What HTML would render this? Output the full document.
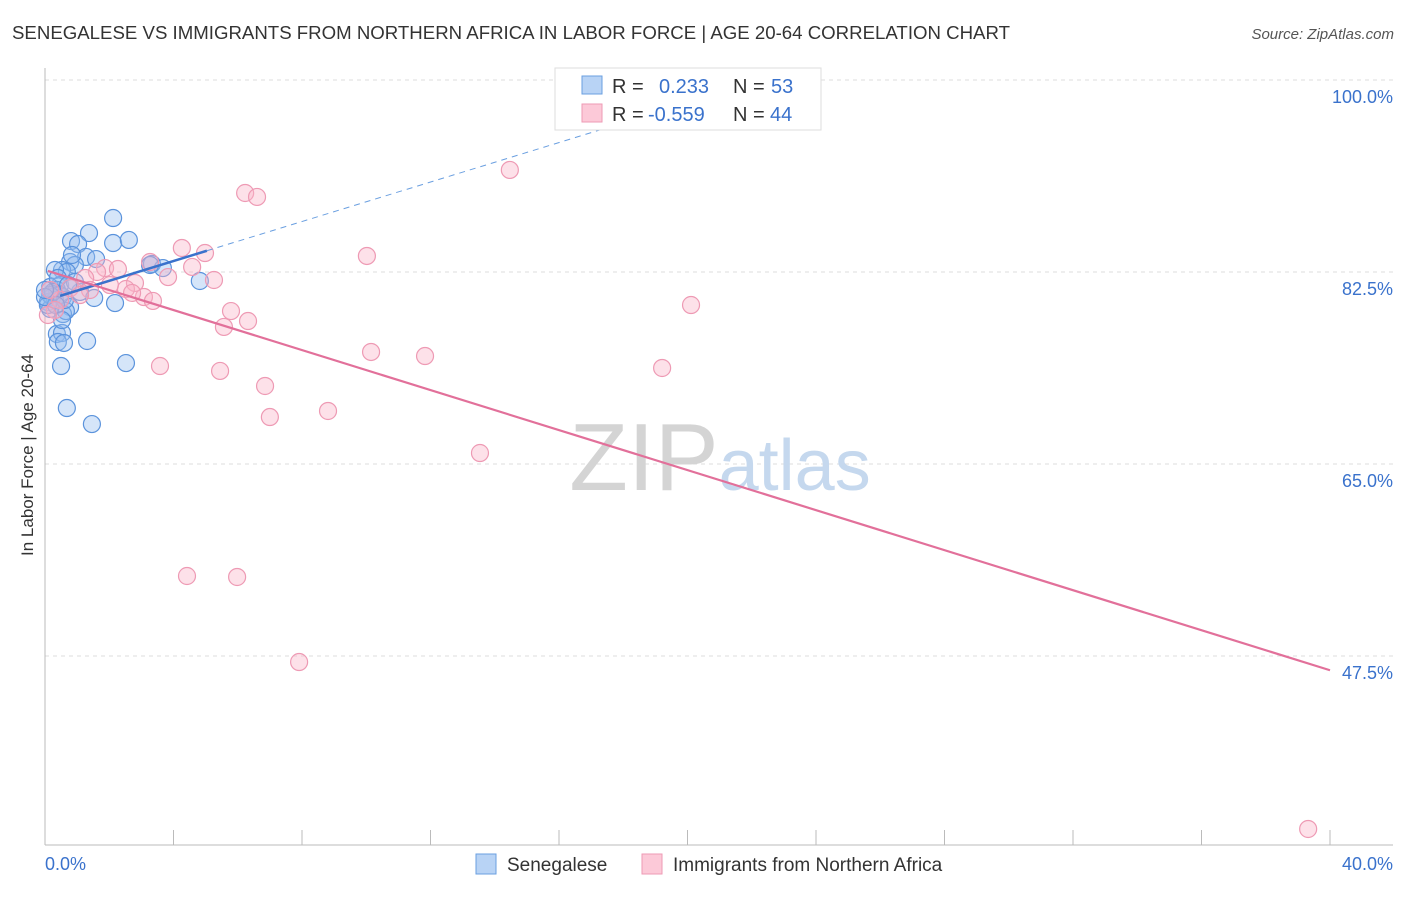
<!DOCTYPE html>
<html><head><meta charset="utf-8"><style>
body{margin:0;background:#fff;font-family:"Liberation Sans",sans-serif}
svg text{font-family:"Liberation Sans",sans-serif}
</style></head><body>
<svg width="1406" height="892" xmlns="http://www.w3.org/2000/svg">
<text x="12" y="39" font-size="18" fill="#333" textLength="998" lengthAdjust="spacingAndGlyphs">SENEGALESE VS IMMIGRANTS FROM NORTHERN AFRICA IN LABOR FORCE | AGE 20-64 CORRELATION CHART</text>
<text x="1394" y="39" font-size="15" fill="#555" text-anchor="end" font-style="italic">Source: ZipAtlas.com</text>
<g id="grid"></g>
<text x="720" y="490" font-size="96" fill="#ddd" text-anchor="middle" font-family="Liberation Serif"><tspan fill="#d4d4d4">ZIP</tspan><tspan fill="#c5d8ee" font-family="Liberation Sans" font-size="72">atlas</tspan></text>
<g id="axes"></g>
<g id="pts"></g>
<g id="lines"></g>
<text transform="translate(33,455) rotate(-90)" font-size="17" fill="#333" text-anchor="middle">In Labor Force | Age 20-64</text>
<g>
<rect x="555" y="68" width="266" height="62" fill="#fff" stroke="#ddd"/>
<rect x="582" y="76" width="20" height="18" fill="#b8d3f5" stroke="#6a9fe0"/>
<rect x="582" y="104" width="20" height="18" fill="#fcc9d8" stroke="#ee9ab4"/>
<text x="612" y="93" font-size="20" fill="#333">R =</text>
<text x="659" y="93" font-size="20" fill="#3a72cc">0.233</text>
<text x="733" y="93" font-size="20" fill="#333">N =</text>
<text x="771" y="93" font-size="20" fill="#3a72cc">53</text>
<text x="612" y="121" font-size="20" fill="#333">R =</text>
<text x="648" y="121" font-size="20" fill="#3a72cc">-0.559</text>
<text x="733" y="121" font-size="20" fill="#333">N =</text>
<text x="770" y="121" font-size="20" fill="#3a72cc">44</text>
</g>
<g>
<rect x="476" y="854" width="20" height="20" fill="#b8d3f5" stroke="#6a9fe0"/>
<text x="507" y="871" font-size="19" fill="#333">Senegalese</text>
<rect x="642" y="854" width="20" height="20" fill="#fcc9d8" stroke="#ee9ab4"/>
<text x="673" y="871" font-size="19" fill="#333">Immigrants from Northern Africa</text>
</g>
</svg>
<script>
const yTicks=[100,82.5,65,47.5];
const yTickLabels=["100.0%","82.5%","65.0%","47.5%"];
const xTickLabels=["0.0%","40.0%"];
const blueX=[2.12,1.37,0.81,1.03,2.12,2.61,1.28,0.78,1.59,0.93,0.53,0.68,0.31,3.33,3.67,4.82,0.47,0.16,0.37,0.22,0.09,0.56,1.09,1.53,2.18,0.78,0.56,0.65,0.16,0.37,0.53,0.40,0.59,1.31,0.50,2.52,0.68,1.46,0.31,0.47,0.16,0.62,0.93,0.40,0.84,0.09,0.25,0.72,0.34,0.53,0.0,3.27,0.0];
const blueY=[87.42,86.05,85.32,85.05,85.14,85.42,83.87,83.41,83.68,83.14,82.68,82.50,82.68,83.23,82.86,81.68,81.31,81.13,80.86,80.22,79.76,80.22,80.68,80.13,79.67,79.31,78.67,78.94,79.13,76.85,76.94,76.12,76.03,76.21,73.93,74.20,70.10,68.64,79.95,80.40,80.40,79.95,81.59,81.95,84.05,79.49,80.68,81.31,79.49,78.12,80.22,83.14,80.86];
const pinkX=[14.47,6.23,6.60,4.26,4.98,10.02,4.58,1.87,2.27,1.62,2.80,3.83,5.26,1.25,1.40,2.52,3.08,3.36,2.71,20.11,5.79,6.32,5.57,10.15,11.83,3.58,5.45,19.21,6.85,8.81,7.00,13.54,4.42,5.98,7.91,39.32,0.47,0.16,0.78,0.31,2.02,1.09,3.27,0.09];
const pinkY=[91.80,89.70,89.34,84.69,84.23,83.96,82.96,82.86,82.77,82.50,81.50,82.04,81.77,81.95,80.86,80.95,80.22,79.86,80.59,79.49,78.94,78.03,77.49,75.21,74.84,73.93,73.48,73.75,72.11,69.83,69.28,66.00,54.79,54.70,46.95,31.73,79.95,80.86,81.04,79.04,81.31,80.40,83.41,78.58];
const blueTrend={x0:0.47,x1:5.04,x2:20.1,a:79.9,b:0.9};
const pinkTrend={x0:0.09,x1:40,a:82.68,b:-0.912};
const NS="http://www.w3.org/2000/svg";
const X=v=>45+v*32.125, Y=v=>80+(100-v)*10.971;
function mk(t,at,p){const e=document.createElementNS(NS,t);for(const k in at)e.setAttribute(k,at[k]);document.getElementById(p).appendChild(e);return e;}
yTicks.forEach((t,i)=>{
 const l=mk('line',{x1:45,x2:1393,y1:Y(t),y2:Y(t),stroke:'#ddd','stroke-dasharray':'4,4'},'grid');
 
 
 const tx=mk('text',{x:1393,y:Y(t)+23,'font-size':18,fill:'#3a72cc','text-anchor':'end'},'axes');
 tx.textContent=yTickLabels[i];
 
 
});
let a=mk('line',{x1:45,x2:45,y1:68,y2:845,stroke:'#bbb'},'axes');


a=mk('line',{x1:45,x2:1393,y1:845,y2:845,stroke:'#bbb'},'axes');


for(let i=1;i<=10;i++){const t=mk('line',{x1:X(i*4),x2:X(i*4),y1:830,y2:845,stroke:'#bbb'},'axes');
 
 }
[[0,'start',45],[40,'end',1393]].forEach((d,i)=>{const t=mk('text',{x:d[2],y:870,'font-size':18,fill:'#3a72cc','text-anchor':d[1]},'axes');t.textContent=xTickLabels[i];
 
 });
blueX.forEach((v,i)=>{const c=mk('circle',{cx:X(v),cy:Y(blueY[i]),r:8.5,fill:'rgba(150,190,240,0.4)',stroke:'#5b93dc','stroke-width':1.2},'pts');
 
 });
pinkX.forEach((v,i)=>{const c=mk('circle',{cx:X(v),cy:Y(pinkY[i]),r:8.5,fill:'rgba(250,180,200,0.4)',stroke:'#ee9ab4','stroke-width':1.2},'pts');
 
 });
const bt=blueTrend,by=x=>bt.a+bt.b*x;
let l=mk('line',{x1:X(bt.x0),y1:Y(by(bt.x0)),x2:X(bt.x1),y2:Y(by(bt.x1)),stroke:'#3a72cc','stroke-width':2.5},'lines');


l=mk('line',{x1:X(bt.x1),y1:Y(by(bt.x1)),x2:X(bt.x2),y2:Y(by(bt.x2)),stroke:'#6a9fe0','stroke-width':1,'stroke-dasharray':'6,5'},'lines');


const pt=pinkTrend,py=x=>pt.a+pt.b*x;
l=mk('line',{x1:X(pt.x0),y1:Y(py(pt.x0)),x2:X(pt.x1),y2:Y(py(pt.x1)),stroke:'#e2709a','stroke-width':2.2},'lines');


</script>
</body></html>
